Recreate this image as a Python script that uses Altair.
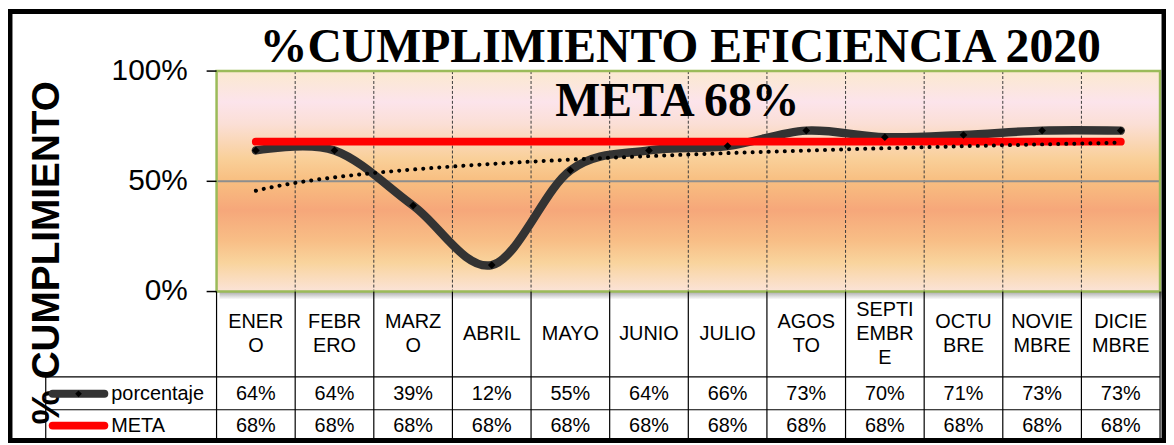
import altair as alt
import pandas as pd

# ---------------- data ----------------
MONTHS = ["ENER\nO", "FEBR\nERO", "MARZ\nO", "ABRIL", "MAYO", "JUNIO", "JULIO",
          "AGOS\nTO", "SEPTI\nEMBR\nE", "OCTU\nBRE", "NOVIE\nMBRE", "DICIE\nMBRE"]
PORCENTAJE = [64, 64, 39, 12, 55, 64, 66, 73, 70, 71, 73, 73]
META = [68, 68, 68, 68, 68, 68, 68, 68, 68, 68, 68, 68]
Y_TICKS = [0, 50, 100]
SERIES = ["porcentaje", "META"]
TITLE = "%CUMPLIMIENTO EFICIENCIA 2020"
SUBTITLE = "META 68%"
Y_TITLE = "% CUMPLIMIENTO"

W, H = 950, 222
SANS = "Liberation Sans"
SERIF = "Liberation Serif"

n = len(MONTHS)
df = pd.DataFrame({
    "m": list(range(1, n + 1)),
    "name": MONTHS,
    "v": PORCENTAJE,
    "meta": META,
})
df["pct"] = [f"{v}%" for v in PORCENTAJE]
df["meta_txt"] = [f"{v}%" for v in META]
df["nl"] = [s.count("\n") + 1 for s in MONTHS]

ticks_df = pd.DataFrame({"t": Y_TICKS, "lab": [f"{t}%" for t in Y_TICKS]})
inner_b = pd.DataFrame({"b": [i + 0.5 for i in range(1, n)]})
all_b = pd.DataFrame({"b": [i + 0.5 for i in range(0, n + 1)]})
one = pd.DataFrame({"k": [0]})

xs = alt.Scale(domain=[0.5, n + 0.5], nice=False, zero=False)
ys = alt.Scale(domain=[0, 100], nice=False, zero=False)

X = alt.X("m:Q", scale=xs, axis=None)
Yn = alt.Y("v:Q", scale=ys, axis=None)

bg_grad = alt.Gradient(
    gradient="linear",
    stops=[
        alt.GradientStop(color="#FBE9CF", offset=0.0),
        alt.GradientStop(color="#FCE4EB", offset=0.14),
        alt.GradientStop(color="#FBDFD6", offset=0.24),
        alt.GradientStop(color="#F9CF98", offset=0.40),
        alt.GradientStop(color="#F8BE80", offset=0.50),
        alt.GradientStop(color="#F6A77A", offset=0.63),
        alt.GradientStop(color="#F8BE86", offset=0.77),
        alt.GradientStop(color="#F9D49D", offset=0.87),
        alt.GradientStop(color="#FBE3D8", offset=1.0),
    ],
    x1=0, x2=0, y1=0, y2=1,
)
shadow_grad = alt.Gradient(
    gradient="linear",
    stops=[
        alt.GradientStop(color="#A8A8A8", offset=0.0),
        alt.GradientStop(color="#FFFFFF", offset=1.0),
    ],
    x1=0, x2=0, y1=0, y2=1,
)

bg = alt.Chart(one).mark_rect(fill=bg_grad, strokeWidth=0).encode(
    x=alt.value(0), x2=alt.value(W), y=alt.value(0), y2=alt.value(H))

shadow = alt.Chart(one).mark_rect(fill=shadow_grad, strokeWidth=0).encode(
    x=alt.value(3), x2=alt.value(W + 2), y=alt.value(H), y2=alt.value(H + 8))

vgrid = alt.Chart(inner_b).mark_rule(color="#3A3A3A", strokeDash=[3, 2], strokeWidth=1).encode(
    x=alt.X("b:Q", scale=xs, axis=None), y=alt.value(0), y2=alt.value(H))

hgrid = alt.Chart(pd.DataFrame({"g": [50]})).mark_rule(color="#8E8E8E", strokeWidth=2).encode(
    y=alt.Y("g:Q", scale=ys, axis=None), x=alt.value(0), x2=alt.value(W))

border = alt.Chart(one).mark_rect(fillOpacity=0, stroke="#9BBB59", strokeWidth=2.5).encode(
    x=alt.value(0), x2=alt.value(W), y=alt.value(0), y2=alt.value(H))

# y axis drawn from the tick list
yticks = alt.Chart(ticks_df).mark_rule(color="black", strokeWidth=1.5).encode(
    y=alt.Y("t:Q", scale=ys, axis=None), x=alt.value(-10), x2=alt.value(0))
ylabels = alt.Chart(ticks_df).mark_text(font=SANS, fontSize=30, align="right",
                                        baseline="middle", color="black").encode(
    y=alt.Y("t:Q", scale=ys, axis=None), x=alt.value(-29), text="lab:N")
ytitle = alt.Chart(one).mark_text(text=Y_TITLE, font=SANS, fontSize=39, fontWeight="bold",
                                  angle=270, align="center", baseline="middle",
                                  color="black").encode(
    x=alt.value(-171), y=alt.value(183))

# table grid
T_TOP = H
R1 = 308
R2 = 341
T_BOT = 371
LEFT = -172

tvert = alt.Chart(all_b).mark_rule(color="black", strokeWidth=1.2).encode(
    x=alt.X("b:Q", scale=xs, axis=None), y=alt.value(T_TOP), y2=alt.value(T_BOT))
th1 = alt.Chart(one).mark_rule(color="black", strokeWidth=1.2).encode(
    y=alt.value(R1), x=alt.value(LEFT), x2=alt.value(W))
th2 = alt.Chart(one).mark_rule(color="black", strokeWidth=1.2).encode(
    y=alt.value(R2), x=alt.value(LEFT), x2=alt.value(W))
tleft = alt.Chart(one).mark_rule(color="black", strokeWidth=1.2).encode(
    x=alt.value(LEFT), y=alt.value(R1), y2=alt.value(T_BOT))

frame = alt.Chart(one).mark_rect(fillOpacity=0, stroke="black", strokeWidth=5).encode(
    x=alt.value(-208), x2=alt.value(954), y=alt.value(-60), y2=alt.value(372))

# data series
pline = alt.Chart(df).mark_line(color="#333333", strokeWidth=8.5, interpolate="cardinal",
                                strokeCap="round").encode(x=X, y=Yn)

ppts = alt.Chart(df).mark_point(shape="diamond", filled=True, size=60, color="black", opacity=1).encode(
    x=X, y=Yn)

mline = alt.Chart(df).mark_line(color="#FF0000", strokeWidth=8, strokeCap="round").encode(
    x=X, y=alt.Y("meta:Q", scale=ys, axis=None))

trend = alt.Chart(df).transform_regression("m", "v", method="log").mark_line(
    color="black", strokeWidth=4, strokeDash=[0.1, 8], strokeCap="round").encode(
    x=X, y=Yn)

# table texts (header block centred at y=265)
LH = 24
hdr_layers = []
for k in (1, 2, 3):
    hdr_layers.append(
        alt.Chart(df).transform_filter(alt.datum.nl == k).mark_text(
            font=SANS, fontSize=20, lineHeight=LH, lineBreak="\n",
            align="center", baseline="middle", color="black").encode(
            x=X, y=alt.value(265 - (k - 1) * LH / 2), text="name:N"))

row1 = alt.Chart(df).mark_text(font=SANS, fontSize=20, align="center", baseline="middle",
                               color="black").encode(x=X, y=alt.value(325), text="pct:N")
row2 = alt.Chart(df).mark_text(font=SANS, fontSize=20, align="center", baseline="middle",
                               color="black").encode(x=X, y=alt.value(357), text="meta_txt:N")

leg_t1 = alt.Chart(one).mark_text(text=SERIES[0], font=SANS, fontSize=20, align="left",
                                  baseline="middle", color="black").encode(
    x=alt.value(-106), y=alt.value(325))
leg_t2 = alt.Chart(one).mark_text(text=SERIES[1], font=SANS, fontSize=20, align="left",
                                  baseline="middle", color="black").encode(
    x=alt.value(-106), y=alt.value(357))
leg_l1 = alt.Chart(one).mark_rule(color="#333333", strokeWidth=8, strokeCap="round").encode(
    x=alt.value(-165), x2=alt.value(-113), y=alt.value(325))
leg_d1 = alt.Chart(one).mark_point(shape="diamond", filled=True, size=45, color="black", opacity=1).encode(
    x=alt.value(-139), y=alt.value(325))
leg_l2 = alt.Chart(one).mark_rule(color="#FF0000", strokeWidth=8, strokeCap="round").encode(
    x=alt.value(-165), x2=alt.value(-113), y=alt.value(357))

# titles
t1 = alt.Chart(one).mark_text(text=TITLE, font=SERIF, fontSize=48, fontWeight="bold",
                              align="center", baseline="alphabetic", color="black").encode(
    x=alt.value(467), y=alt.value(-9))
t2 = alt.Chart(one).mark_text(text=SUBTITLE, font=SERIF, fontSize=48, fontWeight="bold",
                              align="center", baseline="alphabetic", color="black").encode(
    x=alt.value(464), y=alt.value(45))

chart = alt.layer(
    bg, shadow, vgrid, hgrid, border, tvert, th1, th2, tleft,
    yticks, ylabels, ytitle,
    pline, mline, trend, ppts,
    *hdr_layers, row1, row2, leg_l1, leg_d1, leg_l2, leg_t1, leg_t2, t1, t2, frame,
).properties(
    width=W, height=H,
    padding={"left": 210, "top": 62, "right": 6, "bottom": 153},
    autosize=alt.AutoSizeParams(type="none"),
).configure_view(strokeWidth=0)

chart.save("out.html", embed_options={"renderer": "svg", "actions": False})
